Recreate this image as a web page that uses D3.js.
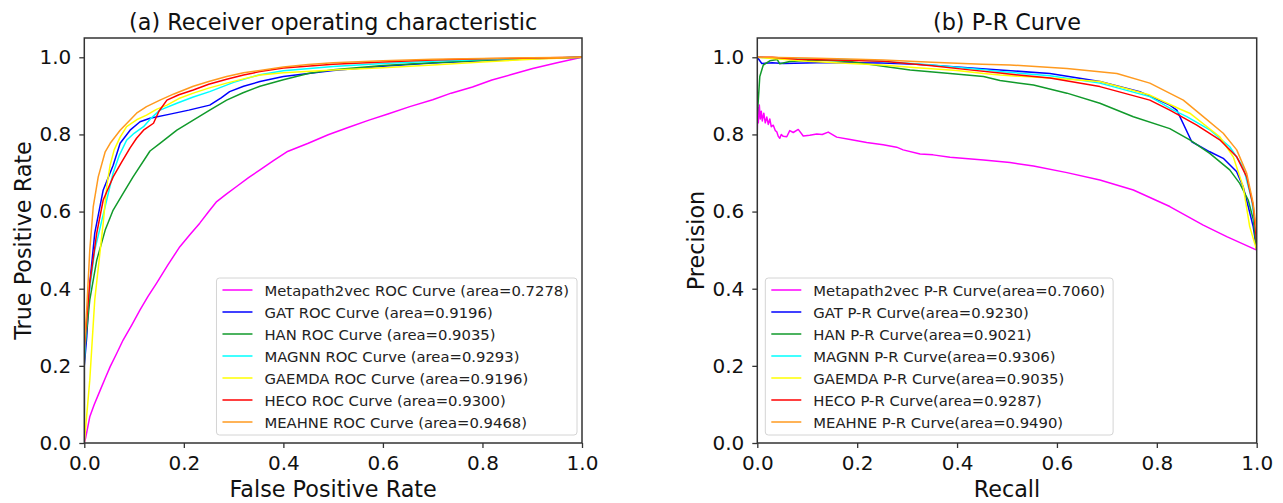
<!DOCTYPE html>
<html>
<head>
<meta charset="utf-8">
<script src="https://cdn.jsdelivr.net/npm/d3@7"></script>
<style>
  html, body { margin: 0; padding: 0; background: #fff; }
  svg { display: block; font-family: "DejaVu Sans", sans-serif; }
</style>
</head>
<body>
<svg id="chart" width="1283" height="503"></svg>
<script>
// ---------------- data ----------------
const models = ["Metapath2vec", "GAT", "HAN", "MAGNN", "GAEMDA", "HECO", "MEAHNE"];
const rocArea = ["0.7278", "0.9196", "0.9035", "0.9293", "0.9196", "0.9300", "0.9468"];
const prArea  = ["0.7060", "0.9230", "0.9021", "0.9306", "0.9035", "0.9287", "0.9490"];
const tickValues = [0, 0.2, 0.4, 0.6, 0.8, 1.0];

// ROC curves: [false positive rate, true positive rate]
const rocMetapath2vec = [[0,0],[0.003,0.015],[0.011,0.068],[0.02,0.1],[0.032,0.137],[0.042,0.168],[0.052,0.198],[0.065,0.232],[0.078,0.267],[0.095,0.305],[0.112,0.345],[0.128,0.38],[0.145,0.414],[0.168,0.462],[0.192,0.509],[0.212,0.54],[0.232,0.57],[0.25,0.6],[0.266,0.626],[0.286,0.646],[0.306,0.665],[0.33,0.688],[0.353,0.708],[0.38,0.732],[0.407,0.755],[0.45,0.777],[0.49,0.799],[0.53,0.818],[0.572,0.837],[0.61,0.853],[0.654,0.872],[0.7,0.89],[0.737,0.907],[0.78,0.923],[0.819,0.941],[0.86,0.956],[0.901,0.971],[0.95,0.986],[1,1]];
const rocGAT = [[0,0],[0,0.2],[0.005,0.276],[0.011,0.414],[0.021,0.544],[0.038,0.656],[0.058,0.72],[0.072,0.777],[0.092,0.811],[0.112,0.833],[0.132,0.842],[0.17,0.852],[0.21,0.863],[0.252,0.876],[0.275,0.895],[0.292,0.911],[0.32,0.925],[0.353,0.937],[0.4,0.95],[0.45,0.958],[0.5,0.966],[0.6,0.977],[0.7,0.985],[0.8,0.991],[0.9,0.996],[1,1]];
const rocHAN = [[0,0],[0,0.2],[0.001,0.241],[0.011,0.371],[0.025,0.474],[0.042,0.552],[0.058,0.604],[0.078,0.647],[0.098,0.69],[0.132,0.757],[0.152,0.777],[0.186,0.811],[0.219,0.837],[0.252,0.863],[0.286,0.889],[0.319,0.908],[0.353,0.925],[0.4,0.942],[0.45,0.958],[0.5,0.968],[0.6,0.979],[0.7,0.986],[0.8,0.992],[0.9,0.997],[1,1]];
const rocMAGNN = [[0,0],[0,0.22],[0.004,0.3],[0.008,0.371],[0.021,0.5],[0.045,0.63],[0.058,0.7],[0.07,0.745],[0.085,0.785],[0.1,0.803],[0.119,0.82],[0.135,0.843],[0.152,0.863],[0.186,0.881],[0.219,0.897],[0.252,0.911],[0.3,0.935],[0.353,0.955],[0.4,0.965],[0.5,0.976],[0.6,0.984],[0.7,0.99],[0.8,0.994],[0.9,0.997],[1,1]];
const rocGAEMDA = [[0,0],[0.011,0.163],[0.021,0.371],[0.032,0.5],[0.038,0.57],[0.045,0.665],[0.052,0.721],[0.06,0.76],[0.072,0.793],[0.085,0.82],[0.105,0.838],[0.125,0.85],[0.145,0.865],[0.166,0.876],[0.19,0.893],[0.219,0.907],[0.25,0.92],[0.286,0.933],[0.32,0.944],[0.353,0.954],[0.4,0.96],[0.5,0.967],[0.6,0.973],[0.7,0.98],[0.8,0.988],[0.9,0.995],[1,1]];
const rocHECO = [[0,0],[0,0.24],[0.001,0.26],[0.011,0.414],[0.025,0.544],[0.038,0.63],[0.058,0.69],[0.075,0.728],[0.092,0.765],[0.105,0.79],[0.119,0.811],[0.139,0.829],[0.15,0.86],[0.166,0.889],[0.19,0.903],[0.219,0.915],[0.25,0.93],[0.286,0.943],[0.32,0.954],[0.353,0.963],[0.4,0.972],[0.5,0.982],[0.6,0.988],[0.7,0.993],[0.8,0.996],[0.9,0.998],[1,1]];
const rocMEAHNE = [[0,0],[0,0.25],[0.005,0.35],[0.011,0.5],[0.018,0.613],[0.028,0.69],[0.042,0.755],[0.052,0.777],[0.072,0.811],[0.09,0.835],[0.105,0.855],[0.125,0.872],[0.152,0.889],[0.18,0.905],[0.219,0.925],[0.25,0.937],[0.286,0.95],[0.32,0.96],[0.353,0.966],[0.4,0.975],[0.45,0.981],[0.5,0.986],[0.6,0.991],[0.7,0.995],[0.8,0.997],[0.9,0.999],[1,1]];

// P-R curves: [recall, precision]
const prMetapath2vec = [[0,0.81],[0.001,0.87],[0.002,0.83],[0.004,0.876],[0.006,0.84],[0.008,0.86],[0.01,0.835],[0.013,0.855],[0.016,0.83],[0.019,0.845],[0.022,0.826],[0.025,0.84],[0.028,0.82],[0.032,0.824],[0.036,0.81],[0.039,0.807],[0.042,0.795],[0.045,0.79],[0.048,0.8],[0.052,0.795],[0.059,0.794],[0.065,0.81],[0.072,0.805],[0.082,0.813],[0.092,0.796],[0.105,0.798],[0.119,0.801],[0.13,0.8],[0.142,0.806],[0.159,0.793],[0.186,0.787],[0.219,0.779],[0.252,0.773],[0.279,0.767],[0.292,0.76],[0.326,0.749],[0.352,0.747],[0.386,0.741],[0.453,0.734],[0.506,0.727],[0.553,0.718],[0.62,0.701],[0.686,0.682],[0.753,0.656],[0.826,0.613],[0.893,0.565],[0.94,0.535],[1,0.5]];
const prGAT = [[0,1.0],[0.009,0.984],[0.03,0.986],[0.052,0.984],[0.119,0.986],[0.186,0.986],[0.25,0.985],[0.319,0.982],[0.4,0.975],[0.486,0.967],[0.586,0.958],[0.686,0.937],[0.766,0.911],[0.826,0.876],[0.84,0.863],[0.87,0.781],[0.906,0.755],[0.933,0.738],[0.96,0.703],[0.973,0.664],[0.983,0.613],[0.993,0.561],[1,0.5]];
const prHAN = [[0,0.85],[0.002,0.889],[0.005,0.95],[0.012,0.98],[0.025,0.991],[0.04,0.994],[0.045,0.983],[0.065,0.989],[0.119,0.993],[0.186,0.989],[0.252,0.977],[0.306,0.967],[0.386,0.958],[0.453,0.95],[0.486,0.94],[0.553,0.928],[0.62,0.907],[0.686,0.881],[0.753,0.846],[0.826,0.815],[0.866,0.786],[0.906,0.751],[0.946,0.708],[0.966,0.673],[0.983,0.63],[0.993,0.58],[1,0.5]];
const prMAGNN = [[0,1.0],[0.05,0.997],[0.13,0.996],[0.2,0.993],[0.252,0.989],[0.35,0.98],[0.453,0.968],[0.486,0.963],[0.586,0.952],[0.686,0.933],[0.786,0.898],[0.833,0.863],[0.86,0.846],[0.906,0.812],[0.946,0.768],[0.973,0.716],[0.99,0.63],[1,0.53],[1,0.5]];
const prGAEMDA = [[0,1.0],[0.05,0.995],[0.1,0.99],[0.186,0.984],[0.25,0.98],[0.319,0.973],[0.4,0.966],[0.453,0.958],[0.486,0.954],[0.586,0.946],[0.686,0.937],[0.786,0.902],[0.846,0.866],[0.866,0.855],[0.926,0.794],[0.953,0.742],[0.973,0.664],[0.986,0.561],[1,0.5]];
const prHECO = [[0,1.0],[0.03,1.0],[0.08,0.995],[0.15,0.993],[0.252,0.99],[0.35,0.978],[0.42,0.968],[0.486,0.959],[0.586,0.946],[0.686,0.924],[0.786,0.889],[0.826,0.863],[0.88,0.824],[0.926,0.786],[0.96,0.742],[0.98,0.69],[0.993,0.615],[1,0.52],[1,0.5]];
const prMEAHNE = [[0,1.0],[0.1,0.998],[0.2,0.995],[0.252,0.993],[0.35,0.987],[0.45,0.982],[0.506,0.98],[0.62,0.971],[0.72,0.958],[0.786,0.933],[0.853,0.889],[0.893,0.846],[0.933,0.803],[0.96,0.76],[0.98,0.699],[0.993,0.621],[1,0.545],[1,0.5]];

const rocCurves = [rocMetapath2vec, rocGAT, rocHAN, rocMAGNN, rocGAEMDA, rocHECO, rocMEAHNE];
const prCurves  = [prMetapath2vec, prGAT, prHAN, prMAGNN, prGAEMDA, prHECO, prMEAHNE];

// ---------------- style ----------------
const colors = ["#ff00ff", "#0000ff", "#119a2b", "#00ffff", "#ffff00", "#ff0000", "#ff9a1f"];

const svg = d3.select("#chart");
const yTop = 38, yBottom = 443;

function panel(opts) {
  const x = d3.scaleLinear().domain([0, 1]).range([opts.left, opts.right]);
  const y = d3.scaleLinear().domain([0, 1.05]).range([yBottom, yTop]);
  const g = svg.append("g");

  const clipId = "clip" + opts.id;
  svg.append("clipPath").attr("id", clipId).append("rect")
    .attr("x", opts.left).attr("y", yTop).attr("width", opts.right - opts.left).attr("height", yBottom - yTop);
  const line = d3.line().x(d => x(d[0])).y(d => y(d[1]));
  const cg = g.append("g").attr("clip-path", `url(#${clipId})`);
  opts.curves.forEach((c, i) => {
    cg.append("path").datum(c).attr("d", line)
      .attr("fill", "none").attr("stroke", colors[i]).attr("stroke-width", 1.5)
      .attr("stroke-linejoin", "round");
  });

  const xAxis = d3.axisBottom(x).tickValues(tickValues).tickFormat(d3.format(".1f")).tickSize(5).tickPadding(8);
  const yAxis = d3.axisLeft(y).tickValues(tickValues).tickFormat(d3.format(".1f")).tickSize(5).tickPadding(8);
  const gx = g.append("g").attr("transform", `translate(0,${yBottom})`).call(xAxis);
  const gy = g.append("g").attr("transform", `translate(${opts.left},0)`).call(yAxis);
  [gx, gy].forEach(a => {
    a.select(".domain").remove();
    a.selectAll(".tick line").attr("stroke", "#333").attr("stroke-width", 1.3);
    a.selectAll(".tick text").attr("fill", "#111").style("font-size", "20px").style("font-family", "DejaVu Sans");
  });

  g.append("rect").attr("x", opts.left).attr("y", yTop)
    .attr("width", opts.right - opts.left).attr("height", yBottom - yTop)
    .attr("fill", "none").attr("stroke", "#333").attr("stroke-width", 1.5);

  const cx = (opts.left + opts.right) / 2;
  g.append("text").attr("x", cx).attr("y", 30).attr("text-anchor", "middle")
    .style("font-size", "22.3px").attr("fill", "#111").text(opts.title);
  g.append("text").attr("x", cx).attr("y", 497).attr("text-anchor", "middle")
    .style("font-size", "22.3px").attr("fill", "#111").text(opts.xlabel);
  g.append("text").attr("transform", `translate(${opts.left - 53},${(yTop + yBottom) / 2}) rotate(-90)`)
    .attr("text-anchor", "middle").style("font-size", "22.3px").attr("fill", "#111").text(opts.ylabel);

  // legend
  const lg = g.append("g");
  const rowH = 22;
  const labels = models.map((m, i) => opts.label(m, i));
  const texts = labels.map((t, i) => lg.append("text")
    .attr("y", i * rowH + 5.5).style("font-size", "14.8px").attr("fill", "#222").text(t));
  const maxW = d3.max(texts, t => t.node().getComputedTextLength());
  const boxW = 48 + maxW + 8;
  const boxH = 157;
  const boxLeft = opts.legendRight ? x(1) - 5 - boxW : x(0) + 8;
  const boxTop = y(0) - 8 - boxH;
  lg.insert("rect", ":first-child").attr("x", 0).attr("y", -12).attr("width", boxW).attr("height", boxH)
    .attr("rx", 3).attr("fill", "#fff").attr("fill-opacity", 0.85).attr("stroke", "#d4d4d4").attr("stroke-width", 1);
  texts.forEach(t => t.attr("x", 48));
  models.forEach((m, i) => {
    lg.append("line").attr("x1", 6).attr("x2", 36).attr("y1", i * rowH).attr("y2", i * rowH)
      .attr("stroke", colors[i]).attr("stroke-width", 1.5);
  });
  lg.attr("transform", `translate(${boxLeft},${boxTop + 12})`);
}

panel({
  id: "a", left: 84.3, right: 582, curves: rocCurves,
  title: "(a) Receiver operating characteristic",
  xlabel: "False Positive Rate", ylabel: "True Positive Rate",
  label: (m, i) => `${m} ROC Curve (area=${rocArea[i]})`,
  legendRight: true
});
panel({
  id: "b", left: 757.3, right: 1256.7, curves: prCurves,
  title: "(b) P-R Curve",
  xlabel: "Recall", ylabel: "Precision",
  label: (m, i) => `${m} P-R Curve(area=${prArea[i]})`,
  legendRight: false
});
</script>
</body>
</html>
